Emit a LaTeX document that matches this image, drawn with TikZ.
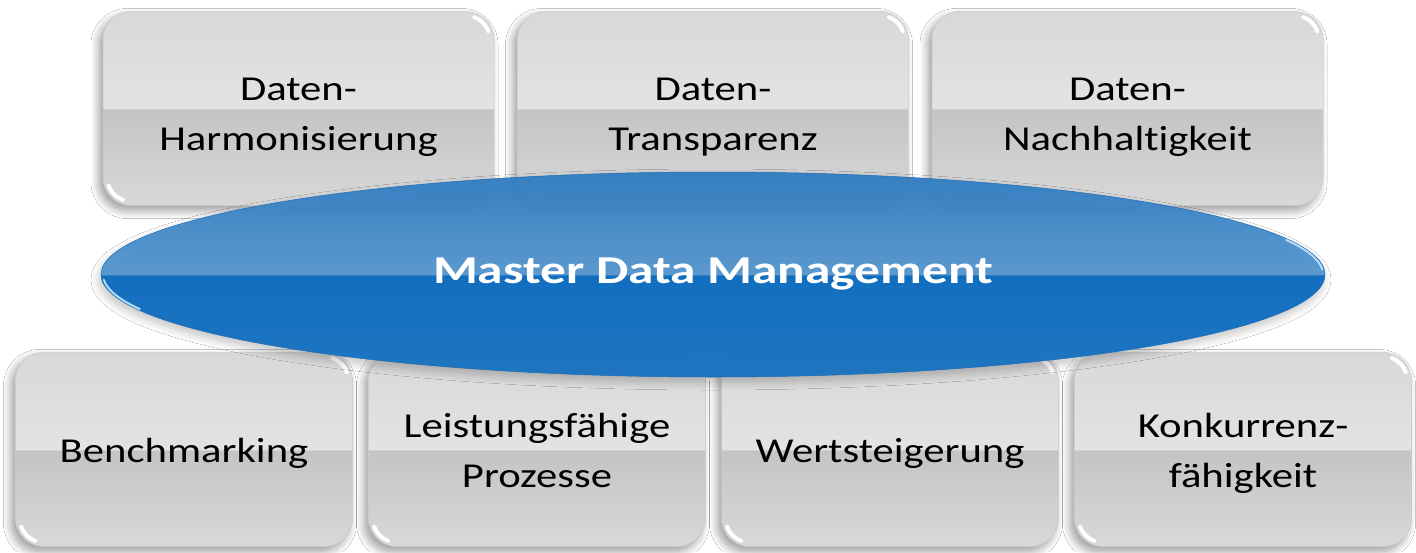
\documentclass[tikz,border=0pt]{standalone}
\usepackage{fontspec}
\usetikzlibrary{shapes.geometric,shadows.blur}
\newfontfamily\kastenschrift[FakeStretch=1.22, Ligatures=NoCommon]{Carlito}
\newfontfamily\ellipsenschrift[FakeStretch=1.3, Ligatures=NoCommon]{Carlito}
\definecolor{graua}{HTML}{D0D0D0}
\definecolor{graub}{HTML}{E3E3E3}
\definecolor{grauc}{HTML}{C4C4C4}
\definecolor{graud}{HTML}{E8E8E8}
\definecolor{graurand}{HTML}{C8C8C8}
\definecolor{blaua}{HTML}{196CB8}
\definecolor{blaub}{HTML}{5797CF}
\definecolor{blauc}{HTML}{0A6BBF}
\definecolor{blaud}{HTML}{2177C2}
\definecolor{blaulicht}{HTML}{B5DAF5}
\pgfdeclareverticalshading{kastenglanz}{100bp}{color(0bp)=(graud); color(6bp)=(graud); color(49.8bp)=(grauc); color(50bp)=(graub); color(94bp)=(graua); color(100bp)=(graua)}
\pgfdeclareverticalshading{ellipsenglanz}{100bp}{color(0bp)=(blaud); color(15bp)=(blaud); color(49.8bp)=(blauc); color(50bp)=(blaub); color(90bp)=(blaua); color(100bp)=(blaua)}
\tikzset{
	kasten/.style = {rectangle, rounded corners = 28pt, draw = graurand, line width = 0.5pt, shading = kastenglanz, minimum height = 194pt, align = center, text = black, text depth = 8pt, font = \kastenschrift\fontsize{35}{50}\selectfont, blur shadow = {shadow xshift = -4pt, shadow yshift = -5pt, shadow blur radius = 8pt, shadow blur steps = 10, shadow opacity = 40}},
	kastenoben/.style = {kasten, minimum width = 391pt, text height = 91pt},
	kastenunten/.style = {kasten, minimum width = 337pt, text height = 83pt},
	einzeilig/.style = {text height = 33pt},
	glanz/.style = {white, line width = 4pt, line cap = round},
	linse/.style = {ellipse, minimum width = 1224pt, minimum height = 205pt, inner sep = 0pt, draw = blaua, line width = 0.5pt, shading = ellipsenglanz, fill opacity = 0.96, text opacity = 1, text = white, font = \ellipsenschrift\bfseries\fontsize{39.5}{47}\selectfont, blur shadow = {shadow xshift = -2pt, shadow yshift = -5pt, shadow blur radius = 8pt, shadow blur steps = 10, shadow opacity = 25}},
	linsenglanz/.style = {blaulicht, line width = 2pt, line cap = round}
}
\begin{document}
\begin{tikzpicture}[x = 1pt, y = -1pt]
			\useasboundingbox[fill = white] (0, 0) rectangle (1416, 552);
			\node[kastenoben] (harm) at (298.5, 108.5) {Daten-\\Harmonisierung};
			\node[kastenoben] (transp) at (713, 108.5) {Daten-\\Transparenz};
			\node[kastenoben] (nachh) at (1127.5, 108.5) {Daten-\\Nachhaltigkeit};
			\node[kastenunten, einzeilig] (bench) at (184, 449.5) {Benchmarking};
			\node[kastenunten] (proz) at (537, 449.5) {Leistungsfähige\\Prozesse};
			\node[kastenunten, einzeilig] (wert) at (890, 449.5) {Wertsteigerung};
			\node[kastenunten] (konk) at (1243, 449.5) {Konkurrenz-\\fähigkeit};
			\begin{scope}[x = 1pt, y = 1pt]
				\foreach \kn in {harm, transp, nachh, bench, proz, wert, konk} {
					\draw[glanz] ([xshift = -28pt, yshift = -28pt]\kn.north east) ++(20:23.5) arc[start angle = 20, end angle = 70, radius = 23.5];
					\draw[glanz] ([xshift = 28pt, yshift = 28pt]\kn.south west) ++(200:23.5) arc[start angle = 200, end angle = 250, radius = 23.5];
				}
			\end{scope}
			\node[linse] (mdm) at (713, 274.5) {Master Data Management};
			\begin{scope}[x = 1pt, y = 1pt]
				\draw[linsenglanz] ([shift = {(183:610 and 101)}]mdm.center) arc[start angle = 183, end angle = 200, x radius = 610, y radius = 101];
				\draw[linsenglanz] ([shift = {(3:610 and 101)}]mdm.center) arc[start angle = 3, end angle = 20, x radius = 610, y radius = 101];
			\end{scope}
\end{tikzpicture}
\end{document}
